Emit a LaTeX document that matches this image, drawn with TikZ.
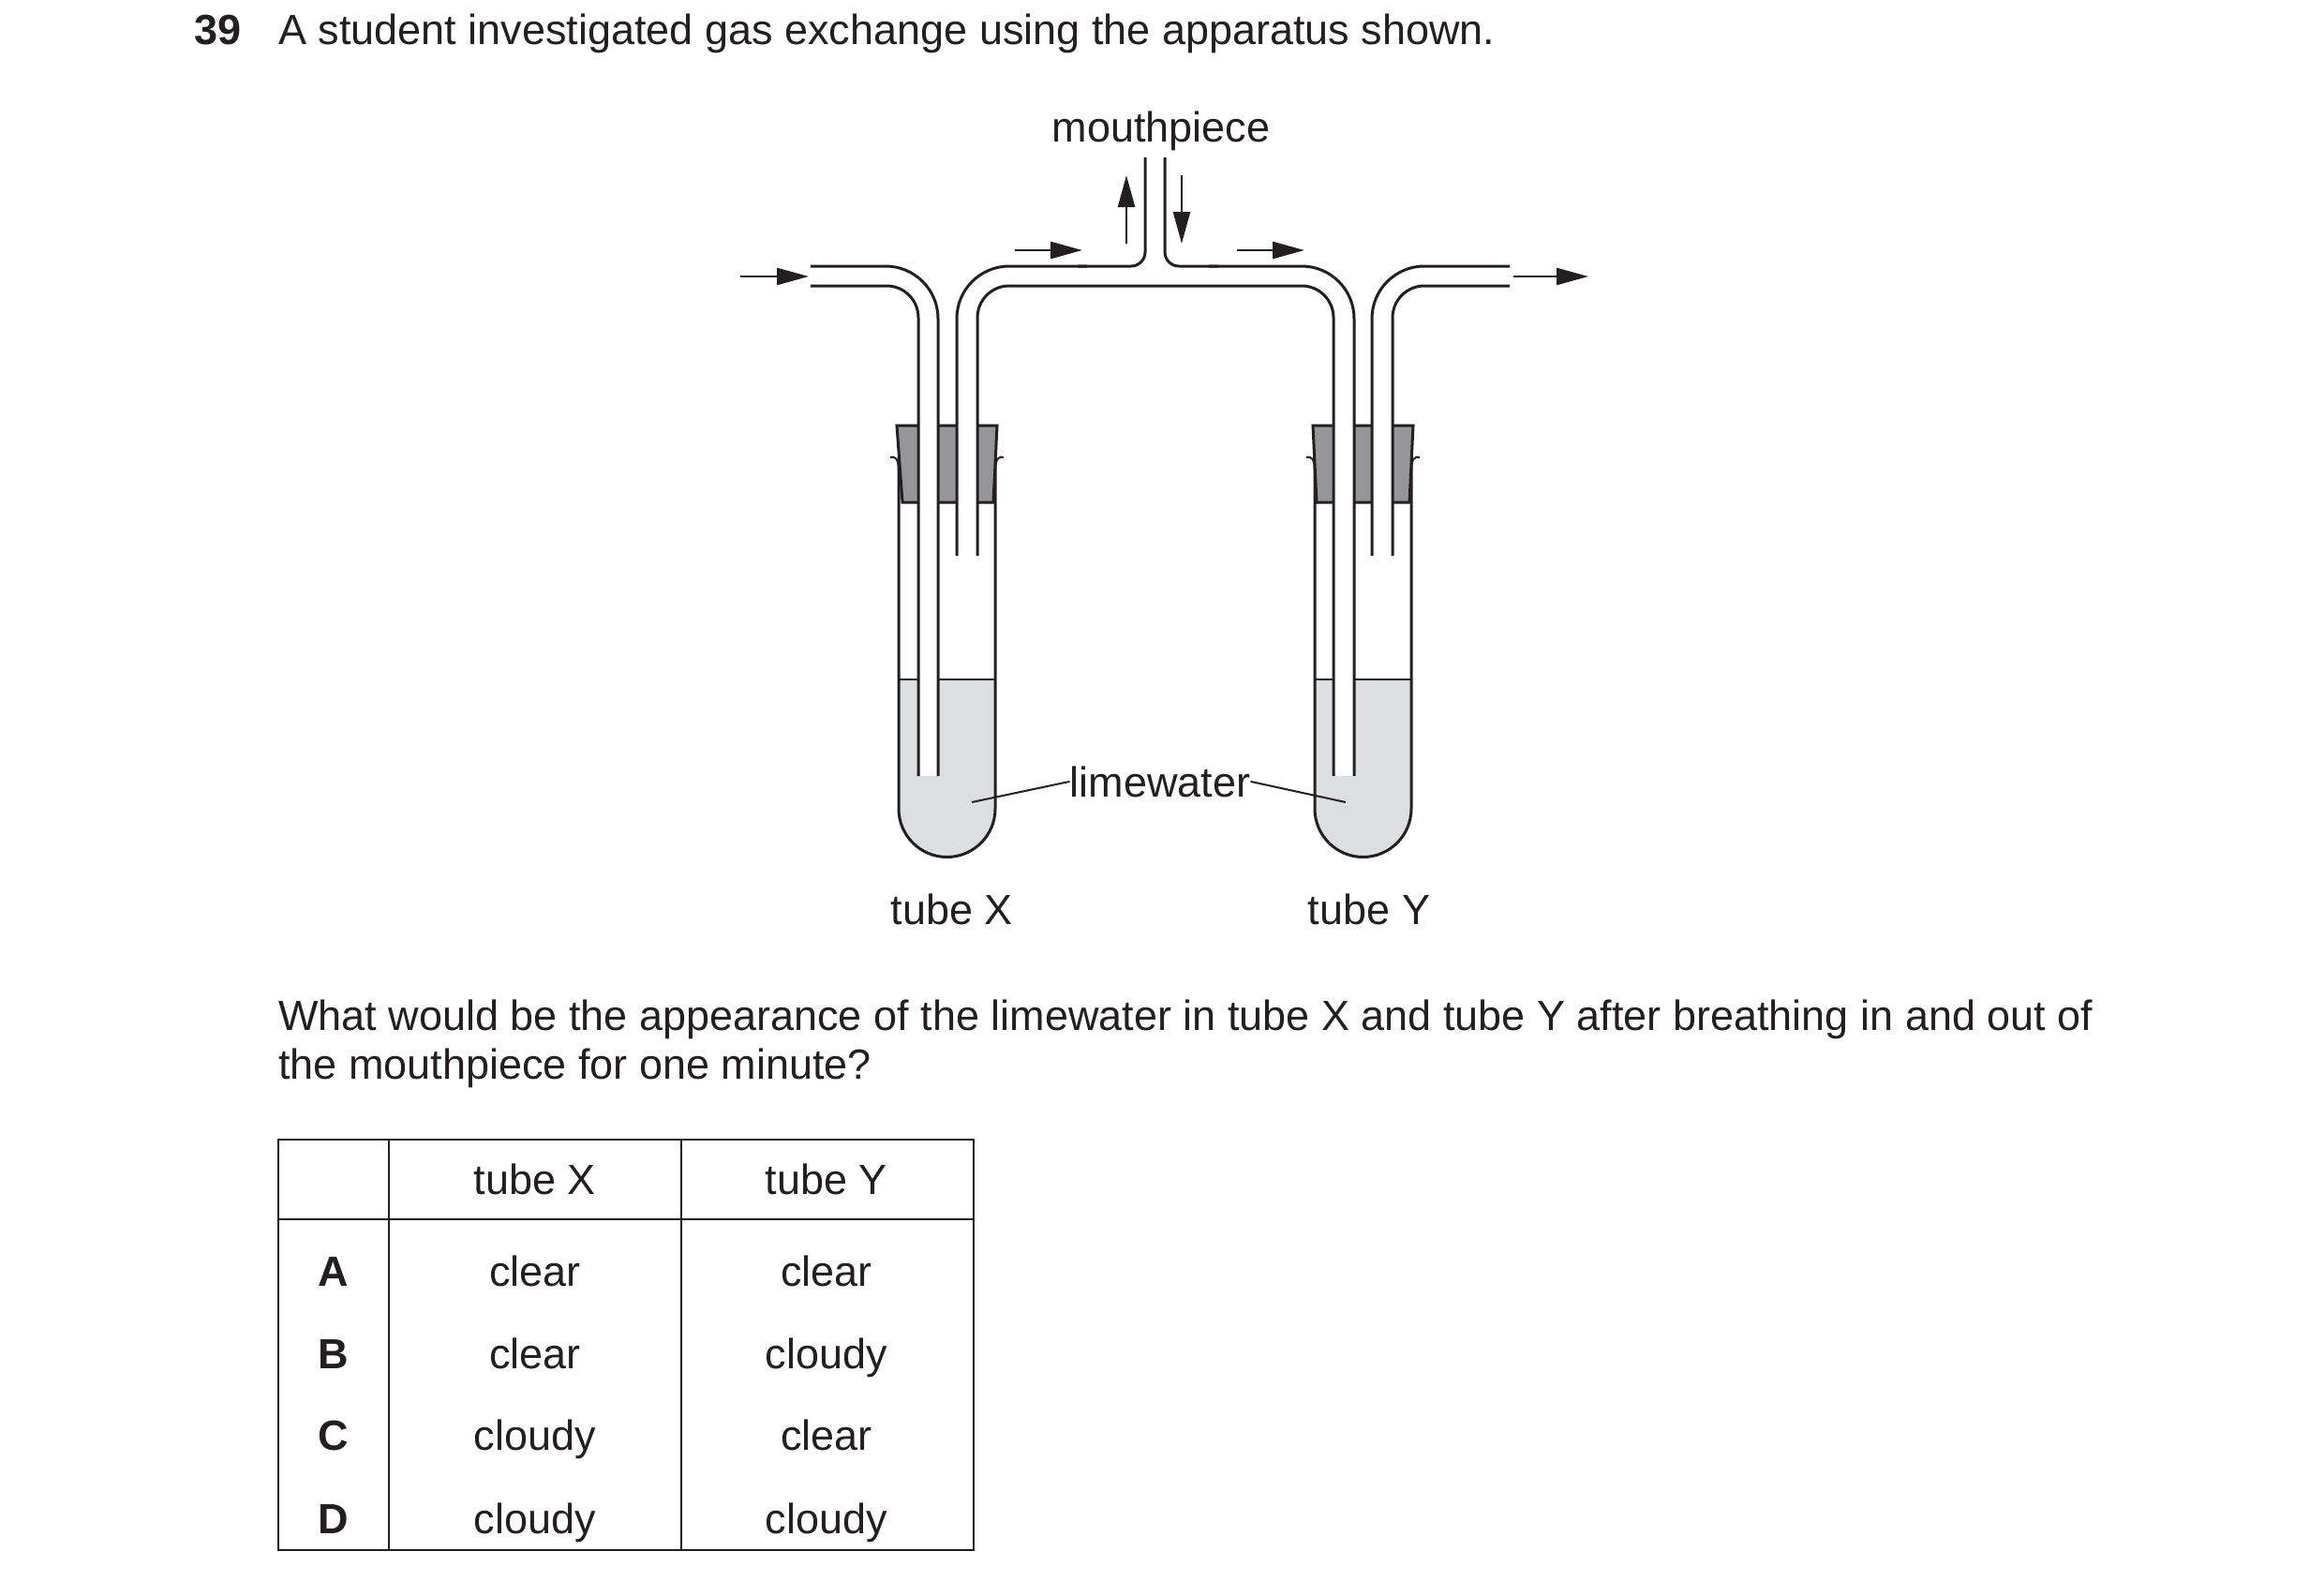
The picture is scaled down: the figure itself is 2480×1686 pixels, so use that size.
\documentclass[tikz,border=0pt]{standalone}
\usepackage{fontspec}
\setmainfont{Liberation Sans}
\usetikzlibrary{arrows.meta}
\definecolor{stop}{RGB}{150,150,152}
\definecolor{lime}{RGB}{221,222,224}
\definecolor{ink}{RGB}{35,31,32}
\begin{document}
\begin{tikzpicture}[x=1pt,y=-1pt,
  txt/.style={font=\fontsize{45}{54}\selectfont,text=ink,inner sep=0pt},
  pipe/.style={line width=3pt,draw=ink},
  flow/.style={line width=2.6pt,draw=ink,-{Triangle[length=34pt,width=18pt]}},
  grid/.style={line width=2.2pt,draw=ink},
  leader/.style={line width=2pt,draw=ink}]
\useasboundingbox (0,0) rectangle (2480,1686);
% texts
\node[txt,anchor=base west,font=\fontsize{45}{54}\selectfont\bfseries] (num) at (207,48) {39};
\node[txt,anchor=base west] (title) at (297,48) {A student investigated gas exchange using the apparatus shown.};
\node[txt,anchor=base] (mouth) at (1239,151) {mouthpiece};
\node[txt,anchor=base] (tX) at (1016,986) {tube X};
\node[txt,anchor=base] (tY) at (1461,986) {tube Y};
\node[txt,anchor=base] (lime) at (1238,850) {limewater};
\node[txt,anchor=base west] (q1) at (297,1099) {What would be the appearance of the limewater in tube X and tube Y after breathing in and out of};
\node[txt,anchor=base west] (q2) at (297,1151) {the mouthpiece for one minute?};
% liquids
\fill[lime] (959,725) -- (959,863) .. controls (959,891.4) and (982.1,914.5) .. (1010.5,914.5) .. controls (1038.9,914.5) and (1062,891.4) .. (1062,863) -- (1062,725) -- cycle;
\fill[lime] (1403,725) -- (1403,863) .. controls (1403,891.4) and (1426.1,914.5) .. (1454.5,914.5) .. controls (1482.9,914.5) and (1506,891.4) .. (1506,863) -- (1506,725) -- cycle;
\fill[white] (980,725) rectangle (1001,828);
\fill[white] (1423,725) rectangle (1445,828);
\draw[leader] (959,725) -- (980,725) (1001,725) -- (1062,725);
\draw[leader] (1403,725) -- (1423,725) (1445,725) -- (1506,725);
% test tubes
\draw[pipe] (959,488) -- (959,863) .. controls (959,891.4) and (982.1,914.5) .. (1010.5,914.5) .. controls (1038.9,914.5) and (1062,891.4) .. (1062,863) -- (1062,488);
\draw[pipe] (1403,488) -- (1403,863) .. controls (1403,891.4) and (1426.1,914.5) .. (1454.5,914.5) .. controls (1482.9,914.5) and (1506,891.4) .. (1506,863) -- (1506,488);
\draw[leader] (959,502) .. controls (959,490) and (955,486) .. (950,488);
\draw[leader] (1062,502) .. controls (1062,490) and (1066,486) .. (1071,488);
\draw[leader] (1403,502) .. controls (1403,490) and (1399,486) .. (1394,488);
\draw[leader] (1506,502) .. controls (1506,490) and (1510,486) .. (1515,488);
% stoppers
\draw[pipe,fill=stop] (957,454) -- (1064,454) -- (1060,536) -- (963,536) -- cycle;
\draw[pipe,fill=stop] (1401,454) -- (1508,454) -- (1504,536) -- (1405,536) -- cycle;
\fill[white] (980,452) rectangle (1001,538) (1021,452) rectangle (1043,538);
\fill[white] (1423,452) rectangle (1445,538) (1464,452) rectangle (1486,538);
% pipes
\draw[pipe,rounded corners=56pt] (865,284) -| (1001,828);
\draw[pipe,rounded corners=34pt] (865,305) -| (980,828);
\draw[pipe,rounded corners=56pt] (1021,593) |- (1160,284);
\draw[pipe,rounded corners=15pt] (1150,284) -- (1222,284) -- (1222,168);
\draw[pipe,rounded corners=15pt] (1243,168) -- (1243,284) -- (1300,284);
\draw[pipe,rounded corners=56pt] (1290,284) -| (1445,828);
\draw[pipe,rounded corners=34pt] (1043,593) |- (1200,305) -| (1423,828);
\draw[pipe,rounded corners=56pt] (1464,593) |- (1611,284);
\draw[pipe,rounded corners=34pt] (1486,593) |- (1611,305);
% arrows
\coordinate (a1) at (790,295); \coordinate (a1e) at (863,295);
\coordinate (a2) at (1083,267); \coordinate (a2e) at (1155,267);
\coordinate (a3) at (1320,267); \coordinate (a3e) at (1392,267);
\coordinate (a4) at (1202,260); \coordinate (a4e) at (1202,187);
\coordinate (a5) at (1261,187); \coordinate (a5e) at (1261,260);
\coordinate (a6) at (1615,295); \coordinate (a6e) at (1695,295);
\draw[flow] (a1) -- (a1e);
\draw[flow] (a2) -- (a2e);
\draw[flow] (a3) -- (a3e);
\draw[flow] (a4) -- (a4e);
\draw[flow] (a5) -- (a5e);
\draw[flow] (a6) -- (a6e);
% leaders
\coordinate (l1) at (1037,856); \coordinate (l2) at (1436,856);
\draw[leader] (l1) -- (lime.west);
\draw[leader] (lime.east) -- (l2);
% table
\draw[grid] (297,1216) rectangle (1039,1654);
\draw[grid] (297,1301) -- (1039,1301);
\draw[grid] (415,1216) -- (415,1654);
\draw[grid] (727,1216) -- (727,1654);
\node[txt,anchor=base] (hX) at (571,1274) {tube X};
\node[txt,anchor=base] (hY) at (882,1274) {tube Y};
\foreach \l/\a/\b/\y in {A/clear/clear/1372,B/clear/cloudy/1460,C/cloudy/clear/1547,D/cloudy/cloudy/1636}{
  \node[txt,anchor=base,font=\fontsize{45}{54}\selectfont\bfseries] (r\l) at (356,\y) {\l};
  \node[txt,anchor=base] (x\l) at (571,\y) {\a};
  \node[txt,anchor=base] (y\l) at (882,\y) {\b};
}
\end{tikzpicture}
\end{document}
